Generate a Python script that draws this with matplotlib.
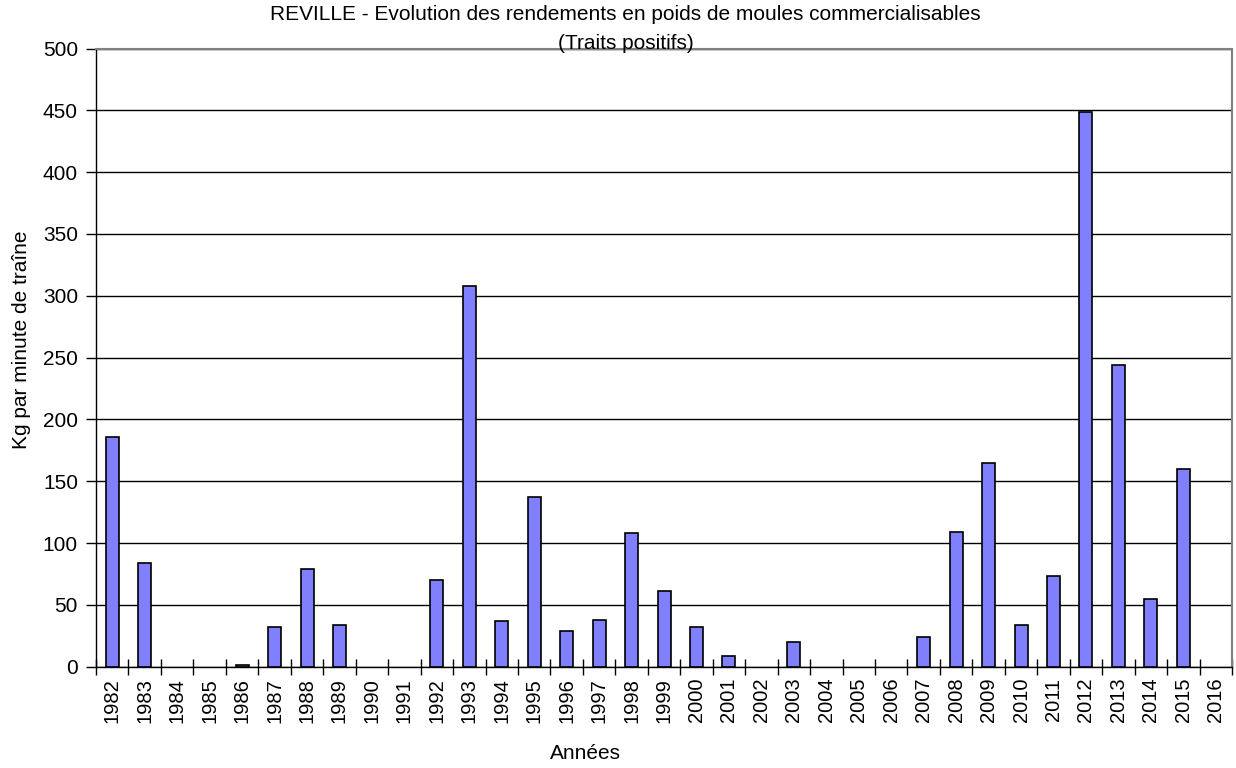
import matplotlib.pyplot as plt
import numpy as np

plt.rcParams['font.family'] = ['Liberation Sans', 'DejaVu Sans']

# rendements par annee (kg par minute de traine)
annees = [str(a) for a in range(1982, 2017)]
rendements = [186, 84, 0, 0, 1, 32, 79, 34, 0, 0,
              70, 308, 37, 137, 29, 38, 108, 61, 32, 9,
              0, 20, 0, 0, 0, 24, 109, 165, 34, 73,
              449, 244, 55, 160, 0]

fig = plt.figure(figsize=(12.36, 7.68), dpi=100)
ax = fig.add_axes([0.0777, 0.1319, 0.9191, 0.8049])

x = np.arange(len(annees))
# les annees sans donnees ne sont pas tracees
hauteurs = np.array(rendements, dtype=float)
hauteurs[hauteurs == 0] = np.nan
ax.bar(x, hauteurs, width=0.4, color='#8080FF', edgecolor='black', linewidth=1.2, zorder=3)

ax.set_xlim(-0.5, len(annees) - 0.5)
ax.set_ylim(0, 500)
ax.set_yticks(np.arange(0, 501, 50))
ax.yaxis.grid(True, color='black', linewidth=1)
ax.set_axisbelow(True)

# graduations entre les categories, libelles au centre
ax.set_xticks(np.arange(-0.5, len(annees), 1))
ax.set_xticklabels([])
ax.set_xticks(x, minor=True)
ax.set_xticklabels(annees, minor=True, rotation=90, fontsize=14.5)
ax.tick_params(axis='x', which='major', direction='inout', length=12, width=1)
ax.tick_params(axis='x', which='minor', length=0, pad=8)
ax.tick_params(axis='y', direction='out', length=7, width=1, labelsize=15, pad=6)

for s in ['top', 'right']:
    ax.spines[s].set_color('#808080')
    ax.spines[s].set_linewidth(1.5)
for s in ['left', 'bottom']:
    ax.spines[s].set_color('black')
    ax.spines[s].set_linewidth(1)

fig.text(0.506, 0.981, "REVILLE - Evolution des rendements en poids de moules commercialisables",
         ha='center', va='center', fontsize=15)
fig.text(0.506, 0.944, "(Traits positifs)", ha='center', va='center', fontsize=15)
fig.text(0.474, 0.019, "Années", ha='center', va='center', fontsize=15)
fig.text(0.017, 0.557, "Kg par minute de traîne", ha='center', va='center', rotation=90, fontsize=15)

fig.savefig('out.png', dpi=100)
